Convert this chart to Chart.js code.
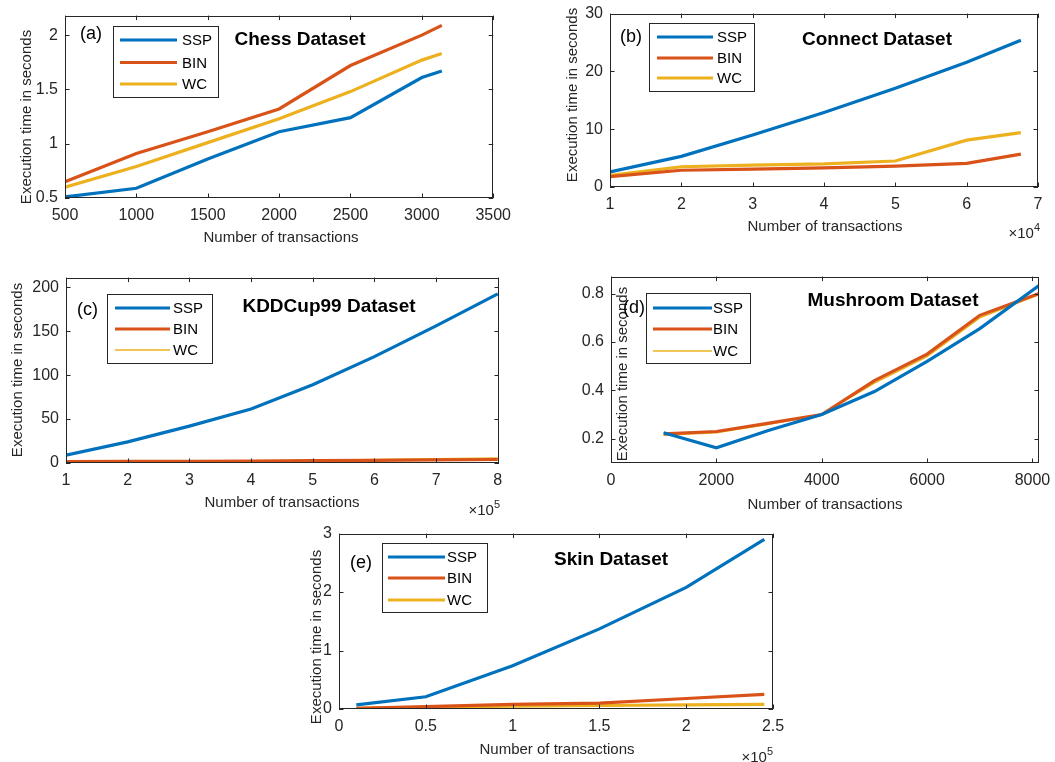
<!DOCTYPE html>
<html>
<head>
<meta charset="utf-8">
<script src="https://cdn.jsdelivr.net/npm/chart.js@4.4.1/dist/chart.umd.min.js"></script>
<style>
  html, body { margin: 0; background: #fff; width: 1055px; height: 762px; overflow: hidden; position: relative; }
  .pnl { position: absolute; }
</style>
</head>
<body>
<script>
// ---- data ----
const seriesNames = ['SSP', 'BIN', 'WC'];

const chessX   = [500, 1000, 1500, 2000, 2500, 3000, 3140];
const chessSSP = [0.51, 0.59, 0.86, 1.11, 1.24, 1.61, 1.67];
const chessBIN = [0.65, 0.91, 1.11, 1.32, 1.72, 2.00, 2.09];
const chessWC  = [0.60, 0.79, 1.01, 1.23, 1.48, 1.77, 1.83];
const chessXTicks = [500, 1000, 1500, 2000, 2500, 3000, 3500];
const chessYTicks = [0.5, 1, 1.5, 2];

const connX   = [1, 2, 3, 4, 5, 6, 6.76];
const connSSP = [2.6, 5.3, 9.0, 12.9, 17.1, 21.6, 25.4];
const connBIN = [1.8, 2.9, 3.1, 3.3, 3.6, 4.1, 5.7];
const connWC  = [2.0, 3.5, 3.8, 4.0, 4.5, 8.1, 9.4];
const connXTicks = [1, 2, 3, 4, 5, 6, 7];
const connYTicks = [0, 10, 20, 30];

const kddX   = [1, 2, 3, 4, 5, 6, 7, 8];
const kddSSP = [9, 24, 42, 61.5, 89, 121, 156, 192.5];
const kddBIN = [1.5, 1.8, 2.0, 2.2, 2.6, 3.0, 3.5, 4.0];
const kddWC  = [0.8, 1.2, 1.6, 2.0, 2.8, 3.8, 4.8, 5.5];
const kddXTicks = [1, 2, 3, 4, 5, 6, 7, 8];
const kddYTicks = [0, 50, 100, 150, 200];

const mushX   = [1000, 2000, 3000, 4000, 5000, 6000, 7000, 8124];
const mushSSP = [0.225, 0.163, 0.235, 0.30, 0.395, 0.52, 0.655, 0.833];
const mushBIN = [0.22, 0.23, 0.265, 0.30, 0.44, 0.55, 0.71, 0.80];
const mushWC  = [0.215, 0.225, 0.26, 0.30, 0.43, 0.54, 0.70, 0.795];
const mushXTicks = [0, 2000, 4000, 6000, 8000];
const mushYTicks = [0.2, 0.4, 0.6, 0.8];

const skinX   = [0.1, 0.5, 1.0, 1.5, 2.0, 2.45];
const skinSSP = [0.07, 0.21, 0.74, 1.37, 2.08, 2.9];
const skinBIN = [0.01, 0.04, 0.08, 0.10, 0.18, 0.25];
const skinWC  = [0.01, 0.03, 0.05, 0.06, 0.07, 0.08];
const skinXTicks = [0, 0.5, 1, 1.5, 2, 2.5];
const skinYTicks = [0, 1, 2, 3];

// ---- look ----
const COLORS = ['#0072BD', '#D95319', '#EDB120'];
const INK = '#262626';
const FONT = '"Liberation Sans", Arial, Helvetica, sans-serif';
const ML = 62, MT = 14, MR = 22, MB = 56, TL = 4.5;

// plot boxes and annotation spots, in page pixels
const panels = [
  { id: 'a', name: 'Chess Dataset', plot: [65, 13, 497, 198], xr: [500, 3500], yr: [0.5, 2.18],
    X: chessX, Y: [chessSSP, chessBIN, chessWC], xt: chessXTicks, yt: chessYTicks, widths: [3.2, 3.2, 3.2],
    letter: [80, 34], title: [300, 40], legend: [113, 26, 218, 97], rows: [40, 62.5, 84], lx: [120, 177], tx: 182,
    ylab: [27, 117], xlab: [281, 238], exp: null },
  { id: 'b', name: 'Connect Dataset', plot: [610, 11, 1038, 187], xr: [1, 7], yr: [0, 30],
    X: connX, Y: [connSSP, connBIN, connWC], xt: connXTicks, yt: connYTicks, widths: [3.2, 3.2, 3.2],
    letter: [620, 37], title: [877, 40], legend: [649, 23, 754, 91], rows: [37, 58, 78], lx: [657, 713], tx: 717,
    ylab: [573, 95], xlab: [825, 227], exp: ['4', 1040, 233] },
  { id: 'c', name: 'KDDCup99 Dataset', plot: [66, 275, 499, 463], xr: [1, 8.02], yr: [0, 211],
    X: kddX, Y: [kddSSP, kddBIN, kddWC], xt: kddXTicks, yt: kddYTicks, widths: [3.2, 3.2, 1.6],
    letter: [77, 310], title: [329, 307], legend: [107, 294, 212, 363], rows: [308, 329, 350], lx: [115, 170], tx: 173,
    ylab: [18, 370], xlab: [282, 503], exp: ['5', 500, 510] },
  { id: 'd', name: 'Mushroom Dataset', plot: [611, 274, 1039, 463], xr: [0, 8124], yr: [0.1, 0.87],
    X: mushX, Y: [mushSSP, mushBIN, mushWC], xt: mushXTicks, yt: mushYTicks, widths: [3.2, 3.2, 1.6],
    letter: [623, 308], title: [893, 301], legend: [646, 293, 750, 363], rows: [308, 329, 351], lx: [653, 712], tx: 713,
    ylab: [623, 374], xlab: [825, 505], exp: null },
  { id: 'e', name: 'Skin Dataset', plot: [339, 531, 773, 709], xr: [0, 2.5], yr: [0, 3],
    X: skinX, Y: [skinSSP, skinBIN, skinWC], xt: skinXTicks, yt: skinYTicks, widths: [3.2, 3.2, 3.2],
    letter: [350, 563], title: [611, 560], legend: [382, 543, 487, 612], rows: [557, 578, 600], lx: [388, 445], tx: 447,
    ylab: [317, 637], xlab: [557, 750], exp: ['5', 773, 757] },
];

function frame(p, ox, oy) {
  return {
    id: 'frame_' + p.id,
    afterDatasetsDraw(chart) {
      const { ctx, chartArea: a, scales: { x, y } } = chart;
      ctx.save();
      // inward ticks on all four sides + box
      ctx.strokeStyle = INK; ctx.lineWidth = 1;
      ctx.beginPath();
      x.ticks.forEach(t => {
        const px = Math.round(x.getPixelForValue(t.value)) + 0.5;
        ctx.moveTo(px, a.bottom); ctx.lineTo(px, a.bottom - TL);
        ctx.moveTo(px, a.top); ctx.lineTo(px, a.top + TL);
      });
      y.ticks.forEach(t => {
        const py = Math.round(y.getPixelForValue(t.value)) + 0.5;
        ctx.moveTo(a.left, py); ctx.lineTo(a.left + TL, py);
        ctx.moveTo(a.right, py); ctx.lineTo(a.right - TL, py);
      });
      ctx.stroke();
      ctx.strokeRect(Math.round(a.left) + 0.5, Math.round(a.top) + 0.5, Math.round(a.width) - 1, Math.round(a.height) - 1);

      // axis labels
      ctx.fillStyle = INK; ctx.textBaseline = 'middle'; ctx.textAlign = 'center';
      ctx.font = `15px ${FONT}`;
      ctx.fillText('Number of transactions', p.xlab[0] - ox, p.xlab[1] - oy);
      ctx.save();
      ctx.translate(p.ylab[0] - ox, p.ylab[1] - oy); ctx.rotate(-Math.PI / 2);
      ctx.fillText('Execution time in seconds', 0, 0);
      ctx.restore();

      // x10^n exponent
      if (p.exp) {
        ctx.textAlign = 'left';
        ctx.font = `15px ${FONT}`;
        const base = '\u00d710', w1 = ctx.measureText(base).width;
        ctx.font = `11px ${FONT}`;
        const w2 = ctx.measureText(p.exp[0]).width;
        const x0 = p.exp[1] - ox - w1 - w2, yb = p.exp[2] - oy;
        ctx.font = `15px ${FONT}`; ctx.fillText(base, x0, yb + 1);
        ctx.font = `11px ${FONT}`; ctx.fillText(p.exp[0], x0 + w1, yb - 5);
      }

      // panel letter and dataset title
      ctx.fillStyle = '#000'; ctx.textAlign = 'left';
      ctx.font = `18px ${FONT}`;
      ctx.fillText('(' + p.id + ')', p.letter[0] - ox, p.letter[1] - oy);
      ctx.textAlign = 'center';
      ctx.font = `bold 19px ${FONT}`;
      ctx.fillText(p.name, p.title[0] - ox, p.title[1] - oy);

      // legend box
      const [l0, t0, r0, b0] = p.legend;
      ctx.fillStyle = '#fff';
      ctx.fillRect(l0 - ox, t0 - oy, r0 - l0, b0 - t0);
      ctx.strokeStyle = INK; ctx.lineWidth = 1;
      ctx.strokeRect(l0 - ox + 0.5, t0 - oy + 0.5, r0 - l0, b0 - t0);
      chart.data.datasets.forEach((ds, i) => {
        const ry = p.rows[i] - oy;
        ctx.strokeStyle = ds.borderColor; ctx.lineWidth = ds.borderWidth;
        ctx.beginPath(); ctx.moveTo(p.lx[0] - ox, ry); ctx.lineTo(p.lx[1] - ox, ry); ctx.stroke();
        ctx.fillStyle = '#000'; ctx.textAlign = 'left'; ctx.font = `15px ${FONT}`;
        ctx.fillText(ds.label, p.tx - ox, ry + 1);
      });
      ctx.restore();
    }
  };
}

panels.forEach(p => {
  const [L, T, R, B] = p.plot;
  const ox = L - ML, oy = T - MT, W = R - L + ML + MR, H = B - T + MT + MB;
  const div = document.createElement('div');
  div.className = 'pnl';
  div.style.left = ox + 'px'; div.style.top = oy + 'px';
  div.style.width = W + 'px'; div.style.height = H + 'px';
  const cv = document.createElement('canvas');
  cv.width = W; cv.height = H;
  cv.style.width = W + 'px'; cv.style.height = H + 'px';
  div.appendChild(cv);
  document.body.appendChild(div);

  const tickFont = { family: FONT, size: 16 };
  new Chart(cv, {
    type: 'line',
    data: {
      datasets: p.Y.map((ys, i) => ({
        label: seriesNames[i],
        data: p.X.map((xv, j) => ({ x: xv, y: ys[j] })),
        borderColor: COLORS[i], borderWidth: p.widths[i],
        pointRadius: 0, tension: 0, fill: false,
      })),
    },
    options: {
      responsive: false, animation: false, events: [],
      layout: { padding: { left: 0, top: MT, right: MR, bottom: 0 } },
      plugins: { legend: { display: false }, tooltip: { enabled: false } },
      scales: {
        x: {
          type: 'linear', min: p.xr[0], max: p.xr[1],
          afterBuildTicks: s => { s.ticks = p.xt.map(v => ({ value: v })); },
          afterFit: s => { s.height = MB; },
          grid: { display: false, drawTicks: false }, border: { display: false },
          ticks: { autoSkip: false, maxRotation: 0, padding: 8, color: INK, font: tickFont, callback: v => String(v) },
        },
        y: {
          type: 'linear', min: p.yr[0], max: p.yr[1],
          afterBuildTicks: s => { s.ticks = p.yt.map(v => ({ value: v })); },
          afterFit: s => { s.width = ML; },
          grid: { display: false, drawTicks: false }, border: { display: false },
          ticks: { autoSkip: false, padding: 7, color: INK, font: tickFont, callback: v => String(v) },
        },
      },
    },
    plugins: [frame(p, ox, oy)],
  });
});
</script>
</body>
</html>
